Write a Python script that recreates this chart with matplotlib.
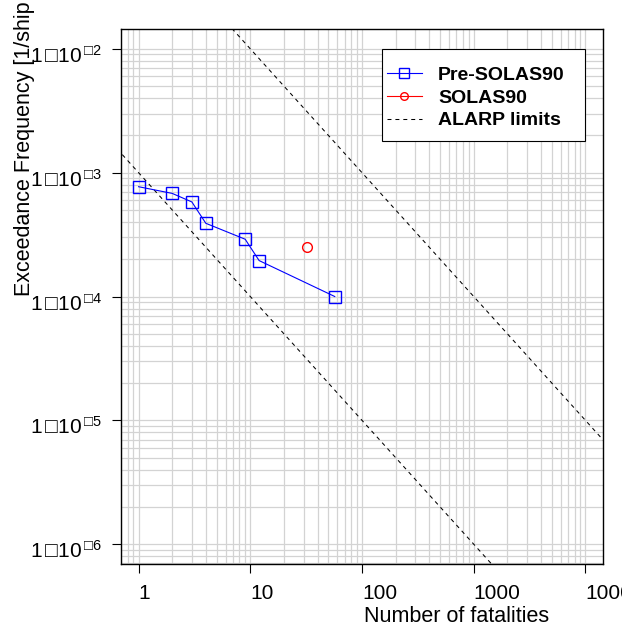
import numpy as np
import matplotlib
matplotlib.use("Agg")
import matplotlib.pyplot as plt
import matplotlib.transforms as mtransforms
from matplotlib.lines import Line2D
from matplotlib.patches import Rectangle
from matplotlib.ticker import FixedLocator, NullFormatter, LogLocator

plt.rcParams['font.family'] = ['Liberation Sans', 'DejaVu Sans']
plt.rcParams['mathtext.fontset'] = 'custom'
plt.rcParams['mathtext.rm'] = 'Liberation Sans'

# data
pre_n = [1, 2, 3, 4, 9, 12, 57]
pre_f = [7.7e-4, 6.8e-4, 5.8e-4, 3.9e-4, 2.9e-4, 1.95e-4, 1.0e-4]
solas_n = [32]
solas_f = [2.5e-4]
alarp_n = [0.1, 1e5]
alarp_upper = 1e-1   # F = C / N
alarp_lower = 1e-3

x_ticks = [1, 10, 100, 1000, 10000]
x_labels = ["1", "10", "100", "1000", "10000"]
y_ticks = [1e-2, 1e-3, 1e-4, 1e-5, 1e-6]
y_labels = [r"$\mathregular{1\,□10^{\,□%d}}$" % k for k in [2, 3, 4, 5, 6]]
legend_labels = ["Pre-SOLAS90", "SOLAS90", "ALARP limits"]

fig = plt.figure(figsize=(6.22, 6.26), dpi=100)
ax = fig.add_axes([120.7 / 622, 62 / 626, 482.6 / 622, 535 / 626])
ax.set_xscale("log")
ax.set_yscale("log")
ax.set_xlim(10 ** -0.16, 10 ** 4.16)
ax.set_ylim(10 ** -6.16, 10 ** -1.84)

ax.grid(True, which="both", color="#d3d3d3", lw=0.9, zorder=0)
ax.set_axisbelow(True)

l1, = ax.plot(pre_n, pre_f, color="#0000ff", lw=0.8, marker="s", ms=8,
              mfc="none", mec="#0000ff", mew=1.0, zorder=3)
l2, = ax.plot(solas_n, solas_f, color="#ff0000", marker="o", ms=7,
              mfc="none", mec="#ff0000", mew=1.0, linestyle="none", zorder=3)
l1.set_snap(False)
l2.set_snap(False)
an = np.array(alarp_n)
ax.plot(an, alarp_upper / an, color="black", lw=0.75, dashes=(3.8, 3.8), zorder=2)
ax.plot(an, alarp_lower / an, color="black", lw=0.75, dashes=(3.8, 3.8), zorder=2)

# legend (R style: box drawn separately)
h_pre = Line2D([], [], color="#0000ff", lw=0.8, marker="s", ms=6.5, mfc="none", mec="#0000ff")
h_sol = Line2D([], [], color="#ff0000", lw=0.8, marker="o", ms=5.5, mfc="none", mec="#ff0000")
h_al = Line2D([], [], color="black", lw=0.75, dashes=(3.8, 3.8))
ax.legend([h_pre, h_sol, h_al], legend_labels,
          loc="upper left", bbox_to_anchor=(0.5518, 0.9307), frameon=False,
          prop={"weight": "bold", "size": 14}, handlelength=1.8,
          handletextpad=0.82, labelspacing=0.27, borderpad=0, borderaxespad=0)
ax.add_patch(Rectangle((0.5408, 0.7912), 0.4213, 0.1714, transform=ax.transAxes,
                       facecolor="white", edgecolor="black", lw=0.8, zorder=4))
ax.get_legend().set_zorder(5)

ax.xaxis.set_major_locator(FixedLocator(x_ticks))
ax.set_xticklabels(x_labels)
ax.yaxis.set_major_locator(FixedLocator(y_ticks))
ax.set_yticklabels(y_labels)
ax.xaxis.set_minor_locator(LogLocator(base=10, subs=np.arange(2, 10)))
ax.yaxis.set_minor_locator(LogLocator(base=10, subs=np.arange(2, 10)))
ax.xaxis.set_minor_formatter(NullFormatter())
ax.yaxis.set_minor_formatter(NullFormatter())
ax.tick_params(which="minor", length=0)
ax.tick_params(which="major", direction="out", length=6.5, width=0.8, labelsize=15)
ax.tick_params(axis="x", pad=8)
ax.tick_params(axis="y", pad=7)
for lab in ax.get_xticklabels():
    lab.set_horizontalalignment("left")
shift = mtransforms.ScaledTranslation(0, -5 / 100, fig.dpi_scale_trans)
for lab in ax.get_yticklabels():
    lab.set_transform(lab.get_transform() + shift)
for sp in ax.spines.values():
    sp.set_linewidth(1.0)

fig.text(25 / 622, (626 - 296.5) / 626, "Exceedance Frequency [1/ship year]", rotation=90,
         ha="center", va="bottom", fontsize=15.5)
fig.text(457 / 622, 3.5 / 626, "Number of fatalities", ha="center", va="baseline", fontsize=15.5)

fig.savefig("out.png", dpi=100)
